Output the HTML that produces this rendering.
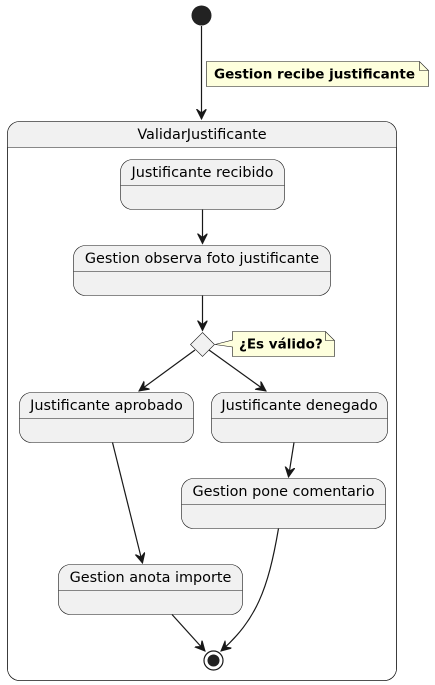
<!DOCTYPE html>
<html><head><meta charset="utf-8"><style>
html,body{margin:0;padding:0;background:#fff;}
svg{display:block;}
text{font-family:"DejaVu Sans","Liberation Sans",sans-serif;}
</style></head><body>
<svg width="435" height="685" viewBox="0 0 435 685" xmlns="http://www.w3.org/2000/svg">
<defs>
<marker id="a" markerWidth="12" markerHeight="12" refX="10" refY="5" orient="auto" markerUnits="userSpaceOnUse">
<path d="M0,0 L10,5 L0,10 L4,5 Z" fill="#181818" stroke="#181818" stroke-width="1"/>
</marker>
</defs>
<circle cx="201.5" cy="15.5" r="10" fill="#222"/>
<line x1="201.5" y1="26" x2="201.5" y2="119" stroke="#181818" stroke-width="1.2" marker-end="url(#a)"/>
<path d="M206.5,61.5 L419.5,61.5 L428.5,70.5 L428.5,86.5 L206.5,86.5 Z" fill="#FEFFDD" stroke="#181818" stroke-width="0.6"/>
<path d="M419.5,61.5 L419.5,70.5 L428.5,70.5" fill="none" stroke="#181818" stroke-width="0.6"/>
<text x="214" y="78.5" font-size="13.5" font-weight="bold" textLength="201">Gestion recibe justificante</text>
<rect x="7.5" y="121.5" width="389" height="559" rx="12" fill="#fff" stroke="#181818" stroke-width="0.6"/>
<path d="M7.5,133.5 a12,12 0 0 1 12,-12 L384.5,121.5 a12,12 0 0 1 12,12 L396.5,147.5 L7.5,147.5 Z" fill="#F1F1F1"/>
<rect x="7.5" y="121.5" width="389" height="559" rx="12" fill="none" stroke="#181818" stroke-width="0.6"/>
<line x1="7.5" y1="147.5" x2="396.5" y2="147.5" stroke="#181818" stroke-width="0.6"/>
<text x="202" y="139" font-size="14.4" text-anchor="middle">ValidarJustificante</text>
<g fill="#F1F1F1" stroke="#181818" stroke-width="0.6">
<rect x="120.5" y="159.5" width="164" height="50" rx="12"/>
<rect x="73.5" y="245.5" width="257" height="50" rx="12"/>
<rect x="19.5" y="392.5" width="174" height="50" rx="12"/>
<rect x="211.5" y="392.5" width="176" height="50" rx="12"/>
<rect x="181.5" y="478.5" width="204" height="50" rx="12"/>
<rect x="58.5" y="564.5" width="184" height="50" rx="12"/>
<line x1="120.5" y1="185.5" x2="284.5" y2="185.5"/>
<line x1="73.5" y1="271.5" x2="330.5" y2="271.5"/>
<line x1="19.5" y1="418.5" x2="193.5" y2="418.5"/>
<line x1="211.5" y1="418.5" x2="387.5" y2="418.5"/>
<line x1="181.5" y1="504.5" x2="385.5" y2="504.5"/>
<line x1="58.5" y1="590.5" x2="242.5" y2="590.5"/>
<path d="M202.5,332.5 L214.5,344.5 L202.5,356.5 L190.5,344.5 Z"/>
</g>
<g font-size="14.4" text-anchor="middle" fill="#000">
<text x="202.5" y="177">Justificante recibido</text>
<text x="202" y="263">Gestion observa foto justificante</text>
<text x="106.5" y="410">Justificante aprobado</text>
<text x="299.5" y="410">Justificante denegado</text>
<text x="283.5" y="496">Gestion pone comentario</text>
<text x="150.5" y="582">Gestion anota importe</text>
</g>
<path d="M232.5,331.5 L325.5,331.5 L334.5,340.5 L334.5,356.5 L232.5,356.5 L232.5,347 L215,344.5 L232.5,340 Z" fill="#FEFFDD" stroke="#181818" stroke-width="0.6"/>
<path d="M325.5,331.5 L325.5,340.5 L334.5,340.5" fill="none" stroke="#181818" stroke-width="0.6"/>
<text x="239" y="348.5" font-size="13.5" font-weight="bold">¿Es válido?</text>
<g stroke="#181818" stroke-width="1.2" fill="none" marker-end="url(#a)">
<line x1="202.5" y1="209.5" x2="202.5" y2="243.5"/>
<line x1="202.5" y1="295.5" x2="202.5" y2="330.5"/>
<line x1="195" y1="350" x2="139" y2="391"/>
<line x1="209" y1="350" x2="266" y2="391"/>
<line x1="112.5" y1="442.5" x2="142.5" y2="563"/>
<line x1="294" y1="442.5" x2="288.5" y2="477"/>
<line x1="172" y1="614.5" x2="205" y2="651"/>
<path d="M278.5,528.5 C268,590 256,620 221,651"/>
</g>
<circle cx="213.5" cy="660.5" r="9.5" fill="#fff" stroke="#181818" stroke-width="1.2"/>
<circle cx="213.5" cy="660.5" r="6" fill="#222"/>
</svg>
</body></html>
